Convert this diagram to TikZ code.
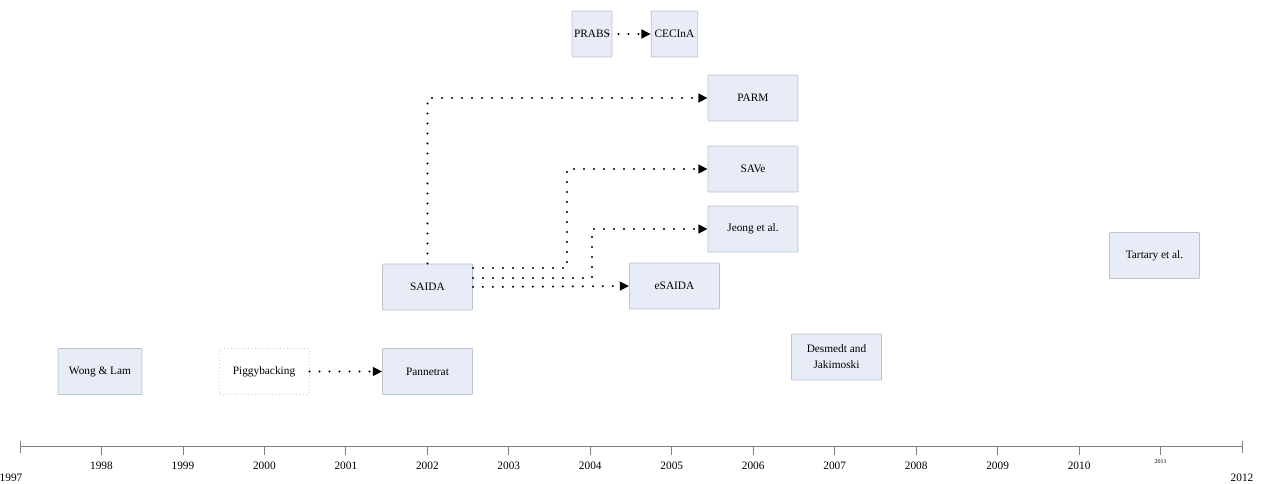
\documentclass[tikz,border=0pt]{standalone}
\usepackage{fontspec}
\setmainfont{Liberation Serif}
\usetikzlibrary{arrows.meta}
\definecolor{boxfill}{HTML}{E7ECF6}
\definecolor{boxline}{HTML}{BCC4D0}
\definecolor{axisgray}{HTML}{7F7F7F}
\begin{document}
\begin{tikzpicture}[x=0.75pt,y=-0.75pt,
  work/.style={draw=boxline,fill=boxfill,rounded corners=0.6pt,line width=0.6pt,
    minimum width=67.5pt,minimum height=34.5pt,inner sep=1pt,align=center,
    font=\fontsize{8.5}{12}\selectfont},
  plainwork/.style={work,draw=boxline!80,fill=white,dotted},
  link/.style={line width=1.7pt,line cap=round,dash pattern=on 0pt off 7.5pt,
    -{Triangle[length=7pt,width=6.5pt]}},
  yearlab/.style={font=\fontsize{8.5}{10}\selectfont,inner sep=0pt},
  axis/.style={draw=axisgray,line width=0.6pt}]
\useasboundingbox (0,0) rectangle (1264,483);

% work boxes
\node[work,minimum width=30pt] (prabs) at (592,34) {PRABS};
\node[work,minimum width=35pt] (cecina) at (674.5,34) {CECInA};
\node[work] (parm) at (753,98) {PARM};
\node[work] (save) at (753,169) {SAVe};
\node[work] (jeong) at (753,229) {Jeong et al.};
\node[work] (esaida) at (674.5,286) {eSAIDA};
\node[work] (saida) at (427.5,287) {SAIDA};
\node[work] (pannetrat) at (427.5,371.5) {Pannetrat};
\node[plainwork] (piggy) at (264,371.5) {Piggybacking};
\node[work,minimum width=63pt] (wong) at (100,371.5) {Wong \& Lam};
\node[work] (desmedt) at (836.5,357) {Desmedt and\\Jakimoski};
\node[work] (tartary) at (1154.5,255.5) {Tartary et al.};

% bend points of the routed links
\coordinate (bsave) at (567,169);
\coordinate (bjeong) at (592,229);

% links
\draw[link] ([xshift=-3pt]prabs.east) -- (cecina.west);
\draw[link] (piggy.east) -- (pannetrat.west);
\draw[link] (saida.north) |- (parm.west);
\draw[link] ([yshift=14.25pt]saida.east) -| (bsave) -- (save.west);
\draw[link] ([yshift=6.75pt]saida.east) -| (bjeong) -- (jeong.west);
\draw[link] (saida.east) -- (esaida.west);

% time axis
\coordinate (t0) at (20,446);
\coordinate (t1) at (1242,446);
\draw[axis] (t0) -- (t1);
\draw[axis] (20,441) -- (20,453);
\draw[axis] (1242,441) -- (1242,453);
\foreach \i/\yr in {1/1998,2/1999,3/2000,4/2001,5/2002,6/2003,7/2004,8/2005,9/2006,10/2007,11/2008,12/2009,13/2010}{
  \draw[axis] (20+81.47*\i,446) -- (20+81.47*\i,455);
  \node[yearlab] (y\yr) at (20+81.47*\i,466) {\yr};
}
\draw[axis] (1160.6,446) -- (1160.6,455);
\node[inner sep=0pt,font=\fontsize{4.5}{5}\selectfont] (y2011) at (1160.6,462) {2011};
\node[yearlab] (y1997) at (11,478) {1997};
\node[yearlab] (y2012) at (1242,478) {2012};
\end{tikzpicture}
\end{document}
